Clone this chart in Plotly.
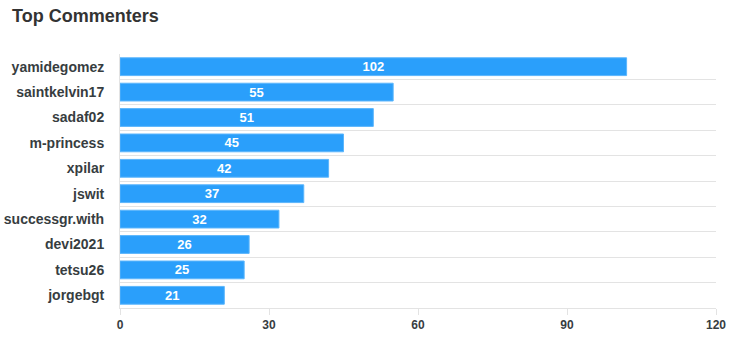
import plotly.graph_objects as go

users = ["yamidegomez", "saintkelvin17", "sadaf02", "m-princess", "xpilar",
         "jswit", "successgr.with", "devi2021", "tetsu26", "jorgebgt"]
comments = [102, 55, 51, 45, 42, 37, 32, 26, 25, 21]
x_ticks = [0, 30, 60, 90, 120]

BAR = "#2a9ffb"
TXT = "#373d3f"
GRID = "#e3e3e3"
FONT = "Liberation Sans, Arial, sans-serif"

fig = go.Figure(go.Bar(
    x=comments, y=users, orientation="h",
    marker=dict(color=BAR, line=dict(color="#5cb6fc", width=1)),
    width=0.7,
    text=[str(v) for v in comments],
    textposition="inside", insidetextanchor="middle",
    textangle=0, constraintext="none",
    textfont=dict(family=FONT, size=13, color="white", weight="bold"),
    hoverinfo="skip",
))

fig.update_layout(
    width=739, height=350,
    margin=dict(l=120, r=23, t=54, b=42),
    paper_bgcolor="white", plot_bgcolor="white",
    title=dict(text="<b>Top Commenters</b>", x=12/739, xref="container", xanchor="left",
               y=1 - 16/350, yanchor="middle", yref="container",
               font=dict(family=FONT, size=18, color="#333333")),
    showlegend=False,
    font=dict(family=FONT),
)

fig.update_xaxes(
    range=[0, 120], tickvals=x_ticks, ticktext=[str(v) for v in x_ticks],
    showgrid=False, zeroline=False,
    showline=True, linecolor=GRID, linewidth=1,
    ticks="outside", ticklen=6, tickcolor=GRID,
    tickfont=dict(family=FONT, size=12, color=TXT, weight="bold"),
    fixedrange=True, automargin=False,
)
fig.update_yaxes(
    type="category", categoryorder="array", categoryarray=users,
    autorange="reversed",
    tickson="boundaries", showgrid=True, gridcolor=GRID, gridwidth=1,
    ticks="", showline=True, linecolor=GRID, linewidth=1,
    ticklabelstandoff=12,
    tickfont=dict(family=FONT, size=14, color=TXT, weight="bold"),
    fixedrange=True, automargin=False,
)

fig.write_html("out.html")
